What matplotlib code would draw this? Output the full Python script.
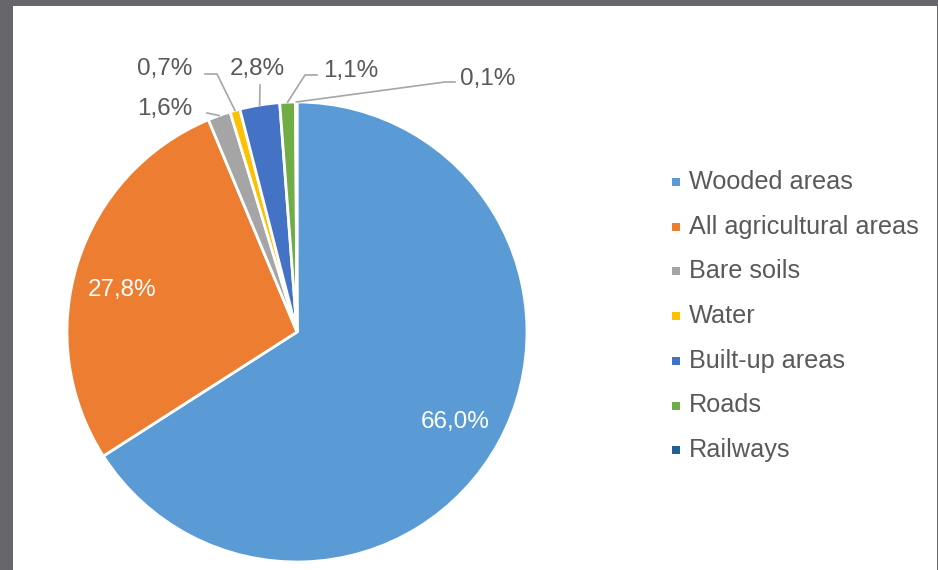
import matplotlib.pyplot as plt
import numpy as np
from matplotlib.patches import Rectangle

plt.rcParams['font.family'] = ['Liberation Sans', 'DejaVu Sans']

categories = ["Wooded areas", "All agricultural areas", "Bare soils", "Water",
              "Built-up areas", "Roads", "Railways"]
shares = [66.0, 27.8, 1.6, 0.7, 2.8, 1.1, 0.1]
colors = ["#5B9BD5", "#ED7D31", "#A5A5A5", "#FFC000", "#4472C4", "#70AD47", "#255E91"]

W, H = 938, 570
TXT = "#595959"


def fmt(v):
    return f"{v:.1f}".replace(".", ",") + "%"


def px(x, y):
    # pixel coords (y down) -> axes data coords (y up)
    return x, H - y


fig = plt.figure(figsize=(W / 100, H / 100), dpi=100, facecolor="#67666b")
ax = fig.add_axes([0, 0, 1, 1])
ax.patch.set_alpha(0)

cx, cy = px(297, 332)
r = 230
wedges, _ = ax.pie(shares, colors=colors, startangle=90, counterclock=False,
                   center=(cx, cy), radius=r,
                   wedgeprops=dict(edgecolor="white", linewidth=2))

ax.set_xlim(0, W)
ax.set_ylim(0, H)
ax.set_aspect("equal")
ax.axis("off")

# white panel inside the dark frame
ax.add_patch(Rectangle((13, 0), 924, H - 6, facecolor="white", edgecolor="none", zorder=0))

# labels inside the two big slices
inside = {0: (455, 422), 1: (122, 290)}
for i, (x, y) in inside.items():
    ax.text(*px(x, y), fmt(shares[i]), color="white", fontsize=17.5,
            ha="center", va="center")

# outside labels with leader lines: text centre, then leader points towards the slice
outside = {
    2: ((165, 109), [(207, 113)]),
    3: ((165, 69), [(205, 74), (217, 74)]),
    4: ((257, 69), [(260, 85)]),
    5: ((351, 71), [(317, 75), (305, 75)]),
    6: ((488, 79), [(455, 82), (445, 82)]),
}
for i, (tpos, path) in outside.items():
    w = wedges[i]
    mid = np.deg2rad((w.theta1 + w.theta2) / 2)
    end = (cx + r * np.cos(mid), cy + r * np.sin(mid))
    pts = [px(*p) for p in path] + [end]
    xs, ys = zip(*pts)
    ax.plot(xs, ys, color="#A6A6A6", lw=1.2, zorder=1)
    ax.text(*px(*tpos), fmt(shares[i]), color=TXT, fontsize=17.5,
            ha="center", va="center")

# legend
for k, (name, col) in enumerate(zip(categories, colors)):
    y = 182 + k * 44.7
    ax.scatter(*px(676, y), marker="s", s=28, color=col, linewidths=0)
    ax.text(*px(689, y), name, color=TXT, fontsize=18.2, ha="left", va="center")

fig.savefig("out.png", dpi=100, facecolor=fig.get_facecolor())
